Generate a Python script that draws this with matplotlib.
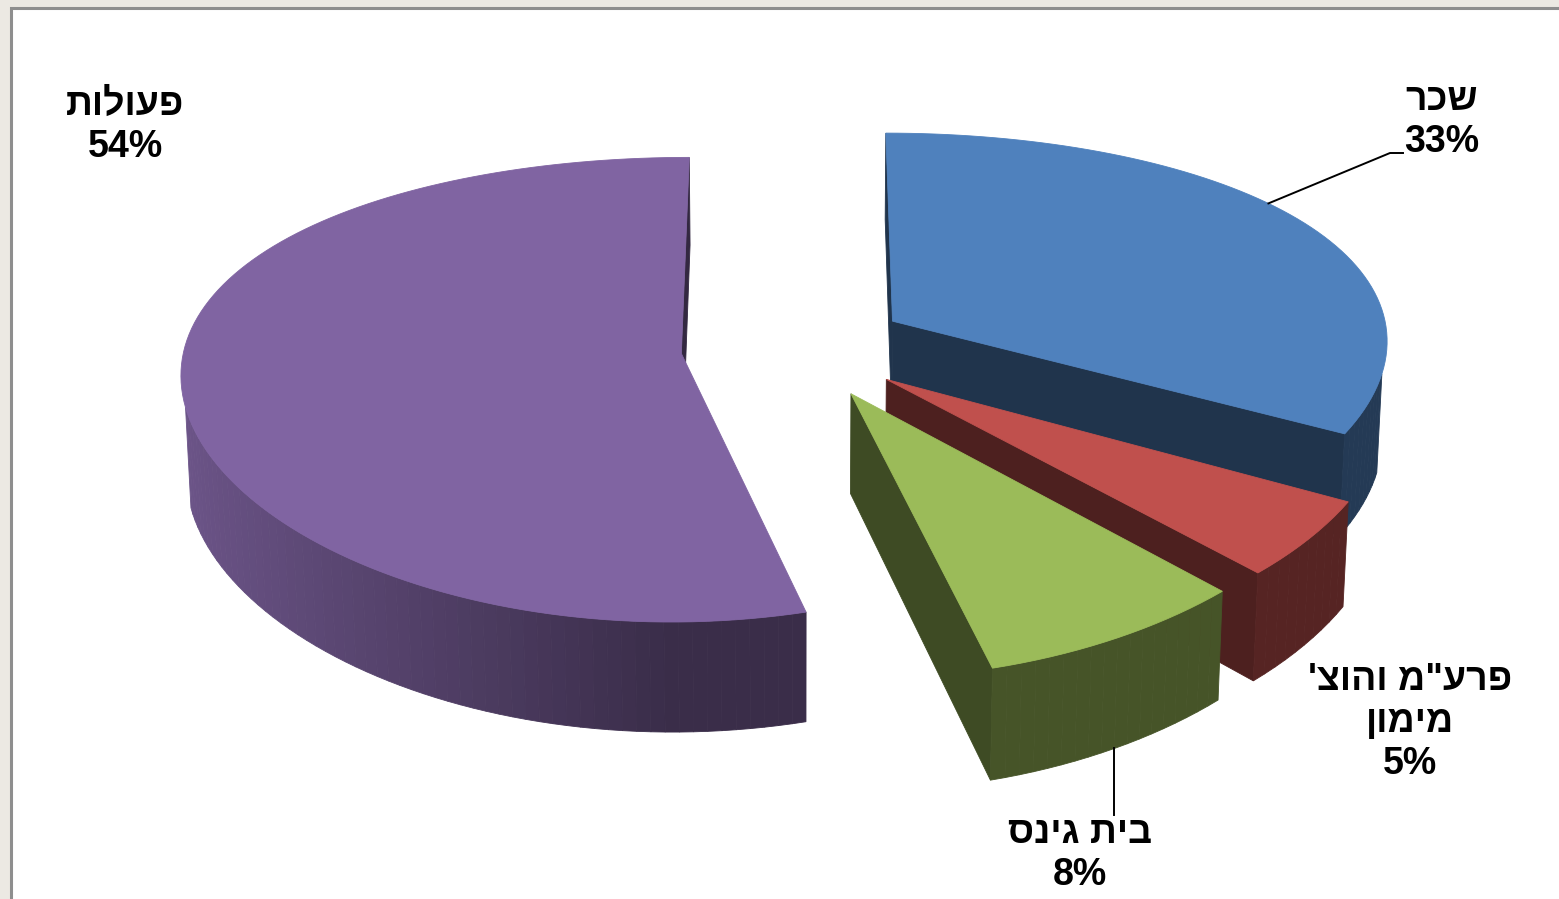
import numpy as np
import matplotlib
matplotlib.use('Agg')
import matplotlib.pyplot as plt
from matplotlib.patches import Polygon, Rectangle
from matplotlib.colors import to_rgb

# data (clockwise from 12 o'clock)
categories = ['שכר', 'פרע"מ והוצ\' מימון', 'בית גינס', 'פעולות']
label_lines = [['שכר'], ['פרע"מ והוצ\'', 'מימון'], ['בית גינס'], ['פעולות']]
values = [33, 5, 8, 54]
pct_labels = ['33%', '5%', '8%', '54%']
colors = ['#4F81BD', '#C0504D', '#9BBB59', '#8064A2']
explode = [0.23, 0.23, 0.23, 0.23]

# 3d view settings
PHI = np.radians(26.7)     # elevation
DIST = 5.76                # camera distance (pie radius = 1)
SCALE_X = 497              # px per radius
SCALE_Y = 500
XCAM = 0.0
ORIGIN = (795, 347)
THICK = 0.222
CAM = np.array([XCAM, -DIST * np.cos(PHI), DIST * np.sin(PHI)])

FONT = ['Liberation Sans', 'DejaVu Sans']


def project(x, y, z):
    # excel-like perspective: full on depth, softened sideways
    v = y * np.sin(PHI) + z * np.cos(PHI)
    d = y * np.cos(PHI) - z * np.sin(PHI)
    f = DIST / (DIST + d)
    X = XCAM + (x - XCAM) * np.sqrt(f)
    return ORIGIN[0] + SCALE_X * X, ORIGIN[1] - SCALE_Y * v * f


def depth(p):
    return p[1] * np.cos(PHI) - p[2] * np.sin(PHI)


def shade(c, k):
    r, g, b = to_rgb(c)
    return (r * k, g * k, b * k)


def rtl(s):
    return s[::-1]


fig = plt.figure(figsize=(15.59, 8.99), dpi=100)
fig.patch.set_facecolor('#ECE9E3')
ax = fig.add_axes([0, 0, 1, 1])
ax.set_xlim(0, 1559)
ax.set_ylim(899, 0)
ax.axis('off')

# chart area frame
ax.add_patch(Rectangle((11, 8), 1600, 1000, facecolor='white',
                       edgecolor='#8E8E8E', lw=2.2, zorder=0))

total = float(sum(values))
bounds = np.cumsum([0] + values) / total * 360.0

slices = []
for i in range(len(values)):
    a1, a2 = bounds[i], bounds[i + 1]
    mid = np.radians((a1 + a2) / 2)
    ox, oy = explode[i] * np.sin(mid), explode[i] * np.cos(mid)
    slices.append((i, np.radians(a1), np.radians(a2), ox, oy))

# farthest slice first
slices.sort(key=lambda s: -depth((s[3], s[4], 0)))

for i, t1, t2, ox, oy in slices:
    col = colors[i]
    n = max(int((t2 - t1) / np.radians(1.5)), 4)
    ts = np.linspace(t1, t2, n)
    top = [(ox + np.sin(t), oy + np.cos(t), 0.0) for t in ts]
    bot = [(ox + np.sin(t), oy + np.cos(t), -THICK) for t in ts]
    faces = []
    # outer curved side
    for j in range(n - 1):
        tm = (ts[j] + ts[j + 1]) / 2
        nrm = np.array([np.sin(tm), np.cos(tm), 0])
        p = np.array([ox + np.sin(tm), oy + np.cos(tm), -THICK / 2])
        if np.dot(nrm, CAM - p) > 0:
            k = 0.45 + 0.4 * max(0.0, -nrm[0])
            faces.append((depth(p), [top[j], top[j + 1], bot[j + 1], bot[j]], shade(col, k)))
    # radial cut faces
    for t, nrm in ((t1, np.array([-np.cos(t1), np.sin(t1), 0])),
                   (t2, np.array([np.cos(t2), -np.sin(t2), 0]))):
        e = (ox + np.sin(t), oy + np.cos(t))
        p = np.array([(ox + e[0]) / 2, (oy + e[1]) / 2, -THICK / 2])
        if np.dot(nrm, CAM - p) > 0:
            quad = [(ox, oy, 0.0), (e[0], e[1], 0.0), (e[0], e[1], -THICK), (ox, oy, -THICK)]
            faces.append((depth(p), quad, shade(col, 0.4)))
    faces.sort(key=lambda f: -f[0])
    for _, pts, fc in faces:
        xy = [project(*q) for q in pts]
        ax.add_patch(Polygon(xy, closed=True, facecolor=fc, edgecolor=fc, lw=0.6, zorder=2))
    xy = [project(ox, oy, 0.0)] + [project(*q) for q in top]
    ax.add_patch(Polygon(xy, closed=True, facecolor=col, edgecolor=col, lw=0.6, zorder=2))

# labels
label_pos = {0: (1442, 100), 1: (1410, 680), 2: (1080, 833), 3: (125, 105)}
line_gap = 42
for i in range(len(values)):
    x0, y0 = label_pos[i]
    lines = [rtl(s) for s in label_lines[i]] + [pct_labels[i]]
    for j, s in enumerate(lines):
        ax.text(x0, y0 + j * line_gap, s, ha='center', va='center', fontsize=27,
                fontweight='bold', family=FONT, color='black', zorder=5)

# leader lines
mid0 = np.radians((bounds[0] + bounds[1]) / 2)
ex, ey = explode[0] * np.sin(mid0), explode[0] * np.cos(mid0)
sx, sy = project(ex + np.sin(mid0 - 0.1), ey + np.cos(mid0 - 0.1), 0.0)
ax.plot([sx, 1390, 1403], [sy, 153, 153], color='black', lw=1.4, zorder=4)

mid2 = np.radians((bounds[2] + bounds[3]) / 2)
ex, ey = explode[2] * np.sin(mid2), explode[2] * np.cos(mid2)
gx, gy = project(ex + np.sin(mid2), ey + np.cos(mid2), -THICK)
ax.plot([gx, gx], [gy, 815], color='black', lw=1.4, zorder=4)

fig.savefig('out.png', dpi=100, facecolor=fig.get_facecolor())
